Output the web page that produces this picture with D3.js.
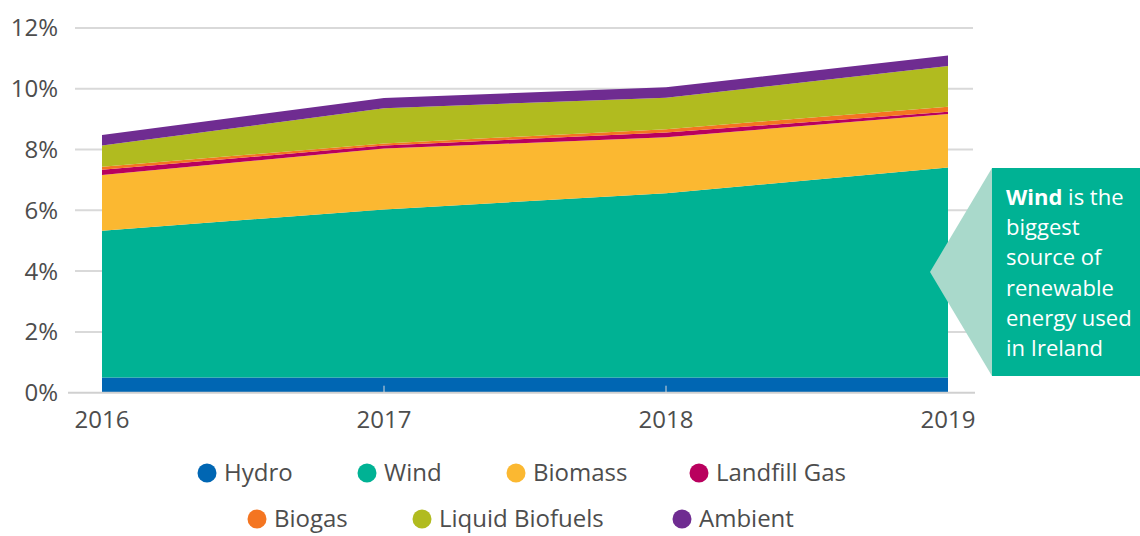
<!DOCTYPE html>
<meta charset="utf-8">
<script src="https://d3js.org/d3.v7.min.js"></script>
<style>
  body { margin: 0; background: #fff; }
  text { font-family: "Open Sans", sans-serif; }
</style>
<div id="chart"></div>
<script>

// data (share of energy, %)
var years = ["2016", "2017", "2018", "2019"];
var keys = ["Hydro", "Wind", "Biomass", "Landfill Gas", "Biogas", "Liquid Biofuels", "Ambient"];
var hydro = [0.50, 0.50, 0.50, 0.50];
var wind = [4.83, 5.53, 6.06, 6.91];
var biomass = [1.83, 2.00, 1.84, 1.76];
var landfill = [0.17, 0.10, 0.16, 0.07];
var biogas = [0.10, 0.07, 0.11, 0.17];
var liquid = [0.70, 1.16, 1.03, 1.34];
var ambient = [0.35, 0.33, 0.35, 0.34];
var yTicks = [0, 2, 4, 6, 8, 10, 12];
var colors = ["#0066b3", "#00b294", "#fbb831", "#b9005e", "#f47521", "#b1bb1f", "#6f2c91"];

var series = [hydro, wind, biomass, landfill, biogas, liquid, ambient];
var data = years.map(function(y, i) {
  var row = { year: y };
  keys.forEach(function(k, j) { row[k] = series[j][i]; });
  return row;
});

var W = 1140, H = 536;
var svg = d3.select("#chart").append("svg")
  .attr("width", W).attr("height", H);

var x = d3.scalePoint().domain(years).range([102, 948]);
var y = d3.scaleLinear().domain([0, 12]).range([392.7, 27.9]);

// gridlines
svg.append("g").selectAll("line")
  .data(yTicks.filter(function(d) { return d > 0; }))
  .enter().append("line")
    .attr("x1", 75).attr("x2", 973)
    .attr("y1", function(d) { return y(d); })
    .attr("y2", function(d) { return y(d); })
    .attr("stroke", "#d9d9d9").attr("stroke-width", 2);

// stacked areas
var stack = d3.stack().keys(keys);
var area = d3.area()
  .x(function(d) { return x(d.data.year); })
  .y0(function(d) { return y(d[0]); })
  .y1(function(d) { return y(d[1]); });

svg.append("g").selectAll("path")
  .data(stack(data))
  .enter().append("path")
    .attr("d", area)
    .attr("fill", function(d, i) { return colors[i]; });

// x axis line + small ticks
svg.append("line")
  .attr("x1", 68).attr("x2", 975)
  .attr("y1", y(0)).attr("y2", y(0))
  .attr("stroke", "#d0d0d0").attr("stroke-width", 2);

svg.append("g").selectAll("line")
  .data(years.slice(1, 3))
  .enter().append("line")
    .attr("x1", function(d) { return x(d); }).attr("x2", function(d) { return x(d); })
    .attr("y1", y(0)).attr("y2", y(0) - 7)
    .attr("stroke", "#d9d9d9").attr("stroke-width", 1);

// tick labels
svg.append("g").selectAll("text")
  .data(yTicks)
  .enter().append("text")
    .attr("x", 58)
    .attr("y", function(d) { return y(d); })
    .attr("dy", "0.35em")
    .attr("text-anchor", "end")
    .attr("font-size", 24)
    .attr("fill", "#4d4d4d")
    .text(function(d) { return d + "%"; });

svg.append("g").selectAll("text")
  .data(years)
  .enter().append("text")
    .attr("x", function(d) { return x(d); })
    .attr("y", 428)
    .attr("text-anchor", "middle")
    .attr("font-size", 24)
    .attr("fill", "#4d4d4d")
    .text(function(d) { return d; });

// callout
svg.append("path")
  .attr("d", "M930,272L992,168L992,376Z")
  .attr("fill", "#a9d9cb");
svg.append("rect")
  .attr("x", 992).attr("y", 168)
  .attr("width", 148).attr("height", 208)
  .attr("fill", "#00b294");

var lines = ["is the", "biggest", "source of", "renewable", "energy used", "in Ireland"];
var call = svg.append("text")
  .attr("x", 1006).attr("y", 205)
  .attr("font-size", 22)
  .attr("fill", "#fff");
lines.forEach(function(t, i) {
  var ts = call.append("tspan")
    .attr("x", 1006)
    .attr("y", 205 + i * 30.2);
  if (i === 0) {
    ts.append("tspan").attr("font-weight", "bold").text("Wind");
    ts.append("tspan").text(" " + t);
  } else {
    ts.text(t);
  }
});

// legend
var legendPos = [
  { cx: 207, ty: 473 }, { cx: 367, ty: 473 }, { cx: 516, ty: 473 }, { cx: 699, ty: 473 },
  { cx: 257, ty: 519 }, { cx: 422, ty: 519 }, { cx: 682, ty: 519 }
];
var lg = svg.append("g").selectAll("g")
  .data(keys)
  .enter().append("g")
    .attr("transform", function(d, i) {
      return "translate(" + legendPos[i].cx + "," + legendPos[i].ty + ")";
    });
lg.append("circle")
  .attr("r", 9.5)
  .attr("fill", function(d, i) { return colors[i]; });
lg.append("text")
  .attr("x", 17)
  .attr("dy", "0.35em")
  .attr("font-size", 24)
  .attr("fill", "#4d4d4d")
  .text(function(d) { return d; });

</script>
